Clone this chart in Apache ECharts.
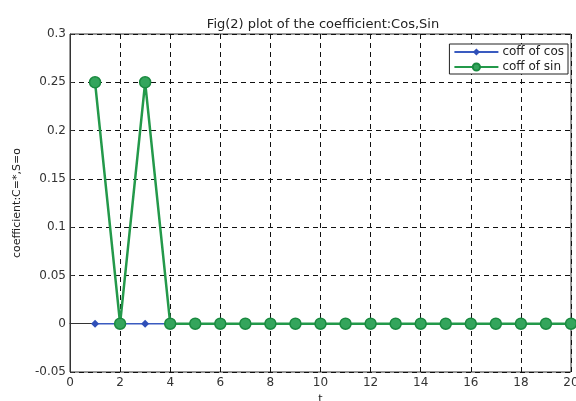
<!DOCTYPE html>
<html>
<head>
<meta charset="utf-8">
<script src="https://cdn.jsdelivr.net/npm/echarts@6/dist/echarts.min.js"></script>
<style>
html,body{margin:0;padding:0;background:#fff;}
#c{width:576px;height:401px;}
</style>
</head>
<body>
<div id="c"></div>
<script>
// Data
const tValues = [1,2,3,4,5,6,7,8,9,10,11,12,13,14,15,16,17,18,19,20];
const cosCoeff = [0,0,0,0,0,0,0,0,0,0,0,0,0,0,0,0,0,0,0,0];
const sinCoeff = [0.25,0,0.25,0,0,0,0,0,0,0,0,0,0,0,0,0,0,0,0,0];
const seriesNames = ['coff of cos','coff of sin'];
const xTicks = [0,2,4,6,8,10,12,14,16,18,20];
const yTicks = ['-0.05','0','0.05','0.1','0.15','0.2','0.25','0.3'];
const titleText = 'Fig(2) plot of the coefficient:Cos,Sin';
const yName = 'coefficient:C=*,S=o';
const xName = 't';

const chart = echarts.init(document.getElementById('c'), null, {renderer:'canvas'});
const font = 'DejaVu Sans, Liberation Sans, sans-serif';
const dash = {color:'#111', width:1, type:[5,4]};

chart.setOption({
  animation:false,
  backgroundColor:'#fff',
  title:{
    text:titleText, left:318, top:13, textAlign:'center',
    textStyle:{fontSize:13, fontWeight:'normal', color:'#222', fontFamily:font}
  },
  grid:{left:70, right:5, top:34, bottom:29, outerBoundsMode:'none', containLabel:false,
        show:true, borderColor:'#333', borderWidth:1, backgroundColor:'transparent'},
  legend:{
    orient:'vertical', right:8, top:44,
    data:seriesNames,
    itemWidth:44, itemHeight:9, itemGap:3,
    padding:[2,4,1,4],
    borderColor:'#222', borderWidth:1, backgroundColor:'#fff',
    textStyle:{fontSize:12, color:'#222', fontFamily:font, padding:[0,0,0,-1]}
  },
  xAxis:{
    type:'value', min:xTicks[0], max:xTicks[xTicks.length-1], interval:2,
    name:xName, nameLocation:'middle', nameGap:21,
    nameTextStyle:{fontSize:11, color:'#222', fontFamily:font},
    axisLine:{show:true, lineStyle:{color:'#333'}},
    axisTick:{show:true, inside:true, length:4, lineStyle:{color:'#333'}},
    axisLabel:{fontSize:12, color:'#333', fontFamily:font, margin:5},
    splitLine:{show:true, lineStyle:dash}
  },
  yAxis:{
    type:'value', min:-0.05, max:0.3, interval:0.05,
    name:yName, nameLocation:'middle', nameGap:47, nameRotate:90,
    nameTextStyle:{fontSize:11, color:'#222', fontFamily:font},
    axisLine:{show:true, lineStyle:{color:'#333'}},
    axisTick:{show:true, inside:true, length:4, lineStyle:{color:'#333'}},
    axisLabel:{fontSize:12, color:'#333', fontFamily:font, margin:4,
      formatter:function(v){ const i=Math.round((v+0.05)/0.05); return yTicks[i]!==undefined?yTicks[i]:''; }},
    splitLine:{show:true, lineStyle:dash}
  },
  series:[
    {
      name:seriesNames[0], type:'line',
      data:tValues.map((t,i)=>[t,cosCoeff[i]]),
      symbol:'diamond', symbolSize:8,
      lineStyle:{color:'#3a5bc0', width:1.5},
      itemStyle:{color:'#2f4fb8'},
      z:2
    },
    {
      name:seriesNames[1], type:'line',
      data:tValues.map((t,i)=>[t,sinCoeff[i]]),
      symbol:'circle', symbolSize:11,
      lineStyle:{color:'#23994a', width:2.5},
      itemStyle:{color:'#34a55c', borderColor:'#1a8a40', borderWidth:1.5},
      z:3
    }
  ]
});
</script>
</body>
</html>
